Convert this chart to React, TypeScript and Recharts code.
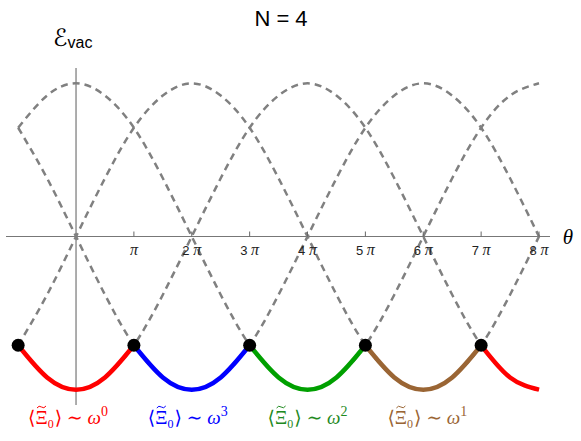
import React from "react";
import { LineChart, Line, XAxis, YAxis, ReferenceLine, ReferenceDot } from "recharts";

// θ in units of π
const theta = [-1, -0.5, 0, 0.5, 1, 1.5, 2, 2.5, 3, 3.5, 4, 4.5, 5, 5.5, 6, 6.5, 7, 7.5, 8];

// the four branches of the vacuum energy (dashed)
const branch0 = [-0.71, -0.92, -1, -0.92, -0.71, -0.38, 0, 0.38, 0.71, 0.92, 1, 0.92, 0.71, 0.38, 0, -0.38, -0.71, -0.92, -1];
const branch1 = [0.71, 0.38, 0, -0.38, -0.71, -0.92, -1, -0.92, -0.71, -0.38, 0, 0.38, 0.71, 0.92, 1, 0.92, 0.71, 0.38, 0];
const branch2 = [0.71, 0.92, 1, 0.92, 0.71, 0.38, 0, -0.38, -0.71, -0.92, -1, -0.92, -0.71, -0.38, 0, 0.38, 0.71, 0.92, 1];
const branch3 = [-0.71, -0.38, 0, 0.38, 0.71, 0.92, 1, 0.92, 0.71, 0.38, 0, -0.38, -0.71, -0.92, -1, -0.92, -0.71, -0.38, 0];

// ground state pieces
const _ = null;
const groundRed = [-0.71, -0.92, -1, -0.92, -0.71, _, _, _, _, _, _, _, _, _, _, _, -0.71, -0.92, -1];
const groundBlue = [_, _, _, _, -0.71, -0.92, -1, -0.92, -0.71, _, _, _, _, _, _, _, _, _, _];
const groundGreen = [_, _, _, _, _, _, _, _, -0.71, -0.92, -1, -0.92, -0.71, _, _, _, _, _, _];
const groundBrown = [_, _, _, _, _, _, _, _, _, _, _, _, -0.71, -0.92, -1, -0.92, -0.71, _, _];

// level crossings (black dots)
const crossT = [-1, 1, 3, 5, 7];
const crossE = -0.71;

const ticks = [1, 2, 3, 4, 5, 6, 7, 8];

const labelAt = [-0.83, 1.24, 3.31, 5.38];
const labelPower = ["0", "3", "2", "1"];
const labelColor = ["#ff0000", "#0000ff", "#1f8a1f", "#9a6534"];

const data = theta.map((t, i) => ({
  t,
  b0: branch0[i],
  b1: branch1[i],
  b2: branch2[i],
  b3: branch3[i],
  red: groundRed[i],
  blue: groundBlue[i],
  green: groundGreen[i],
  brown: groundBrown[i],
}));

const GRAY = "#808080";
const serif = "'Liberation Serif', 'DejaVu Serif', serif";
const sans = "'Liberation Sans', Arial, sans-serif";

function tickShape(n: number) {
  return (p: any) => (
    <g>
      <line x1={p.cx} x2={p.cx} y1={p.cy} y2={p.cy - 5} stroke="#666" strokeWidth={1} />
      <text x={p.cx} y={p.cy + 18} textAnchor="middle" fill="#222">
        {n > 1 && <tspan fontFamily={sans} fontSize={13}>{n} </tspan>}
        <tspan fontFamily={serif} fontStyle="italic" fontSize={16}>π</tspan>
      </text>
    </g>
  );
}

function labelShape(i: number) {
  return (p: any) => {
    // tilde accent over Ξ
    const tx = p.cx + 9;
    const ty = p.cy + 2;
    return (
      <g>
        <path
          d={`M ${tx} ${ty + 1} q 2 -3 4.5 -1 t 4.5 -1`}
          fill="none"
          stroke={labelColor[i]}
          strokeWidth={1}
        />
        <text x={p.cx} y={p.cy + 19} fontSize={19} fontFamily={serif} fill={labelColor[i]}>
          {"⟨Ξ"}
          <tspan fontSize={12} dy={4}>0</tspan>
          <tspan dy={-4} dx={1}>{"⟩ ∼ "}</tspan>
          <tspan fontStyle="italic">ω</tspan>
          <tspan fontSize={14} dy={-8}>{labelPower[i]}</tspan>
        </text>
      </g>
    );
  };
}

export default function App() {
  return (
    <div style={{ position: "absolute", left: 0, top: 0, width: 581, height: 441, background: "#fff" }}>
      <div
        style={{
          position: "absolute",
          left: 0,
          top: 6,
          width: 562,
          textAlign: "center",
          fontFamily: sans,
          fontSize: 22,
          color: "#000",
        }}
      >
        N = 4
      </div>
      <LineChart width={581} height={441} data={data} margin={{ top: 68, right: 31, bottom: 36, left: 6 }}>
        <XAxis type="number" dataKey="t" domain={[-1.21, 8.19]} hide />
        <YAxis type="number" domain={[-1.1, 1.1]} hide />
        <ReferenceLine y={0} stroke="#777" strokeWidth={1.2} />
        <ReferenceLine x={0} stroke="#777" strokeWidth={1.2} />
        {ticks.map((n) => (
          <ReferenceDot key={n} x={n} y={0} r={0} shape={tickShape(n)} />
        ))}
        {["b0", "b1", "b2", "b3"].map((k) => (
          <Line
            key={k}
            type="natural"
            dataKey={k}
            stroke={GRAY}
            strokeWidth={2.5}
            strokeDasharray="7 5"
            dot={false}
            isAnimationActive={false}
          />
        ))}
        <Line type="natural" dataKey="red" stroke="#ff0000" strokeWidth={4.5} dot={false} isAnimationActive={false} />
        <Line type="natural" dataKey="blue" stroke="#0000ff" strokeWidth={4.5} dot={false} isAnimationActive={false} />
        <Line type="natural" dataKey="green" stroke="#00a000" strokeWidth={4.5} dot={false} isAnimationActive={false} />
        <Line type="natural" dataKey="brown" stroke="#9a6534" strokeWidth={4.5} dot={false} isAnimationActive={false} />
        {crossT.map((t) => (
          <ReferenceDot key={t} x={t} y={crossE} r={6.5} fill="#000" stroke="none" />
        ))}
        <ReferenceDot
          x={0}
          y={1.1}
          r={0}
          ifOverflow="visible"
          shape={(p: any) => (
            <text x={p.cx - 23} y={p.cy - 22} fill="#000">
              <tspan fontFamily="'DejaVu Sans', sans-serif" fontSize={24}>ℰ</tspan>
              <tspan fontFamily={sans} fontSize={16} dy={2}>vac</tspan>
            </text>
          )}
        />
        <ReferenceDot
          x={8}
          y={0}
          r={0}
          shape={(p: any) => (
            <text x={p.cx + 29} y={p.cy + 7} textAnchor="middle" fontFamily={serif} fontStyle="italic" fontSize={21} fill="#000">
              θ
            </text>
          )}
        />
        {labelAt.map((t, i) => (
          <ReferenceDot key={t} x={t} y={-1.1} r={0} ifOverflow="visible" shape={labelShape(i)} />
        ))}
      </LineChart>
    </div>
  );
}
